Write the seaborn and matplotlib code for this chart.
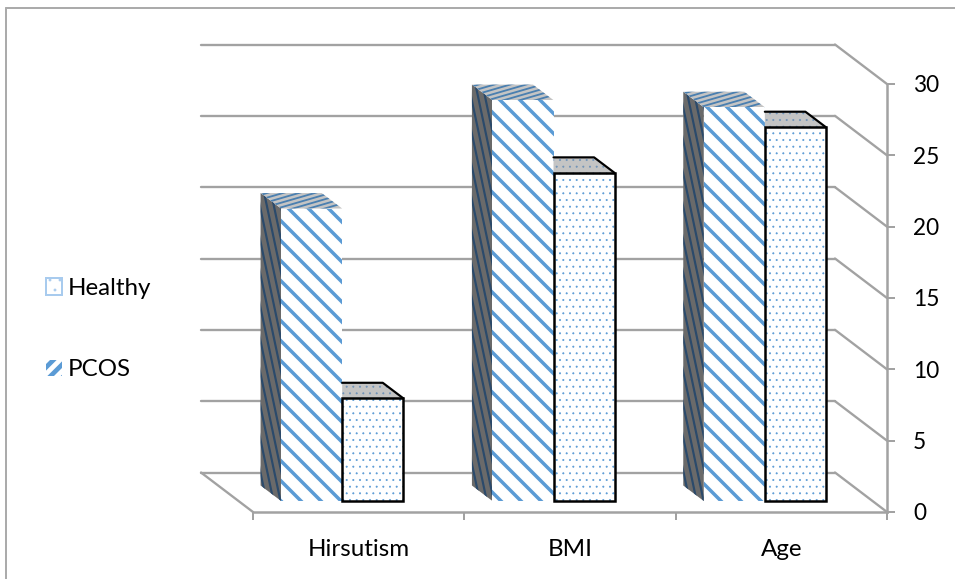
import numpy as np
import pandas as pd
import matplotlib
matplotlib.use("Agg")
import matplotlib.pyplot as plt
import seaborn as sns
from matplotlib.collections import LineCollection
from matplotlib.lines import Line2D
from matplotlib.patches import Patch, Polygon, Rectangle
from matplotlib.transforms import Affine2D

# Chart values
measures = ["Hirsutism", "BMI", "Age"]
pcos_values = [20.5, 28.1, 27.6]
healthy_values = [7.2, 23.0, 26.2]
value_ticks = [0, 5, 10, 15, 20, 25, 30]
group_names = ["PCOS", "Healthy"]

W, H, DPI = 955, 579, 120
GREY = "#a2a2a2"
STRIPE = "#5b9bd5"
DOT = "#5b9bd5"
FONT = "Lato"

# Oblique projection offsets, in pixels
WALL_DX, WALL_DY = 52, 39.5      # depth of the floor
BAR_DX, BAR_DY = -16.5, 11       # front face of the bars relative to the axis plane
FACE_DX, FACE_DY = -20.5, 15.5   # depth of a bar

sns.set_theme(style="white")
plt.rcParams["font.family"] = [FONT, "DejaVu Sans"]
plt.rcParams["hatch.linewidth"] = 2.1

fig = plt.figure(figsize=(W / DPI, H / DPI), dpi=DPI, facecolor="white")
ax = fig.add_axes([253 / W, (H - 512) / H, (887 - 253) / W, (512 - 84) / H])
ax.patch.set_alpha(0)


def hatch_width(artist, width):
    """Give one artist its own hatch line width."""
    if hasattr(artist, "set_hatch_linewidth"):
        artist.set_hatch_linewidth(width)
    original = artist.draw
    def draw(renderer, *args, **kwargs):
        with plt.rc_context({"hatch.linewidth": width}):
            return original(renderer, *args, **kwargs)
    artist.draw = draw
    return artist


df = pd.DataFrame({
    "measure": measures * 2,
    "group": ["PCOS"] * 3 + ["Healthy"] * 3,
    "value": pcos_values + healthy_values,
})
sns.barplot(data=df, x="measure", y="value", hue="group", hue_order=group_names,
            order=measures, palette=["white", "white"], width=0.578, gap=0,
            ax=ax, legend=False, errorbar=None, zorder=5)

ax.set_xlim(-0.5, 2.5)
ax.set_ylim(0, 30)
ax.set_xlabel("")
ax.set_ylabel("")

# Value axis on the right, category boundaries along the floor
ax.yaxis.tick_right()
ax.set_yticks(value_ticks)
ax.tick_params(axis="y", length=4.8, width=1.2, color=GREY, pad=10.8, labelsize=13.6,
               labelcolor="black", right=True)
for lab in ax.get_yticklabels():
    lab.set_ha("left")
ax.set_xticks(range(len(measures)))
ax.set_xticks([-0.5, 0.5, 1.5, 2.5], minor=True)
ax.tick_params(axis="x", which="major", length=0, pad=16, labelsize=14.5, labelcolor="black")
ax.tick_params(axis="x", which="minor", length=4.8, width=1.2, color=GREY, bottom=True)
for side in ["top", "left"]:
    ax.spines[side].set_visible(False)
for side in ["right", "bottom"]:
    ax.spines[side].set_color(GREY)
    ax.spines[side].set_linewidth(1.5)

# Back wall lines and the diagonals that join them to the value axis
wall = ax.transData + Affine2D().translate(-WALL_DX, WALL_DY)
pixels = Affine2D()
for v in value_ticks:
    ax.plot([-0.5, 2.5], [v, v], color=GREY, lw=1.4, transform=wall, clip_on=False, zorder=1)
    p_back = wall.transform((2.5, v))
    p_front = ax.transData.transform((2.5, v))
    ax.add_line(Line2D([p_back[0], p_front[0]], [p_back[1], p_front[1]], color=GREY, lw=1.4,
                       transform=pixels, clip_on=False, zorder=1))
p_back = wall.transform((-0.5, 0))
p_front = ax.transData.transform((-0.5, 0))
ax.add_line(Line2D([p_back[0], p_front[0]], [p_back[1], p_front[1]], color=GREY, lw=1.4,
                   transform=pixels, clip_on=False, zorder=1))

# Bars: shifted front face plus oblique side and top faces
offset = ax.transData + Affine2D().translate(BAR_DX, BAR_DY)
bar_groups = [list(c) for c in ax.containers]


def clipped_lines(segments, polygon, color, lw, z):
    lines = LineCollection(segments, colors=color, linewidths=lw, zorder=z)
    ax.add_collection(lines, autolim=False)
    lines.set_transform(pixels)
    lines.set_clip_path(polygon)
    return lines


for bar in bar_groups[0]:
    bar.set_transform(offset)
    bar.set_facecolor("white")
    bar.set_edgecolor(STRIPE)
    bar.set_linewidth(0)
    bar.set_hatch("\\\\")
    bar.set_clip_on(False)
    bar.set_zorder(5)
    hatch_width(bar, 2.1)
    x0, y0 = offset.transform((bar.get_x(), 0))
    x1, y1 = offset.transform((bar.get_x() + bar.get_width(), bar.get_height()))

    side = Polygon([(x0, y0), (x0, y1), (x0 + FACE_DX, y1 + FACE_DY), (x0 + FACE_DX, y0 + FACE_DY)],
                   closed=True, facecolor="#6a6a6a", edgecolor="none", transform=pixels,
                   clip_on=False, zorder=4)
    ax.add_patch(side)
    starts = np.arange(y1 + FACE_DY + 130, y0 - 140, -33)
    segs = [[(x0 + FACE_DX - 3, s), (x0 + 3, s - 125)] for s in starts]
    clipped_lines(segs, side, "#2b4a6b", 1.3, 4.1)

    top = Polygon([(x0, y1), (x1, y1), (x1 + FACE_DX, y1 + FACE_DY), (x0 + FACE_DX, y1 + FACE_DY)],
                  closed=True, facecolor="#c4c4c4", edgecolor="none", transform=pixels,
                  clip_on=False, zorder=4)
    ax.add_patch(top)
    starts = np.arange(y1 - 20, y1 + FACE_DY + 5, 4.6)
    segs = [[(x0 + FACE_DX - 5, s), (x1 + 5, s + 0.29 * (x1 - x0 - FACE_DX + 10))] for s in starts]
    clipped_lines(segs, top, "#4a7fb0", 1.1, 4.1)

for bar in bar_groups[1]:
    bar.set_transform(offset)
    bar.set_facecolor("white")
    bar.set_edgecolor(DOT)
    bar.set_linewidth(0)
    bar.set_hatch("...")
    bar.set_clip_on(False)
    bar.set_zorder(6)
    hatch_width(bar, 0.4)
    x0, y0 = offset.transform((bar.get_x(), 0))
    x1, y1 = offset.transform((bar.get_x() + bar.get_width(), bar.get_height()))

    outline = Rectangle((bar.get_x(), 0), bar.get_width(), bar.get_height(), fill=False,
                        edgecolor="black", linewidth=1.5, transform=offset, clip_on=False, zorder=7)
    ax.add_patch(outline)

    corners = [(x0, y1), (x1, y1), (x1 + FACE_DX, y1 + FACE_DY), (x0, y1 + FACE_DY)]
    top = Polygon(corners, closed=True, facecolor="#c4c4c4", edgecolor="#6f93b8", linewidth=0,
                  hatch="...", transform=pixels, clip_on=False, zorder=5.5)
    hatch_width(top, 0.4)
    ax.add_patch(top)
    ax.add_line(Line2D([x0, x1 + FACE_DX, x1], [y1 + FACE_DY, y1 + FACE_DY, y1], color="black",
                       lw=1.3, transform=pixels, clip_on=False, zorder=6.5))

# Legend at the left of the plot
healthy_key = Patch(facecolor="white", edgecolor="#a8cbee", linewidth=1.2, hatch="..")
pcos_key = Patch(facecolor="white", edgecolor=STRIPE, linewidth=0, hatch="///")
legend = fig.legend(handles=[healthy_key, pcos_key], labels=["Healthy", "PCOS"],
                    loc="center left", bbox_to_anchor=(46 / W, (H - 329) / H), frameon=False,
                    fontsize=14.5, handlelength=0.67, handleheight=0.67, handletextpad=0.22,
                    labelspacing=2.5, borderpad=0, borderaxespad=0)
for text in legend.get_texts():
    text.set_color("black")
hatch_width(legend.get_patches()[0], 0.5)
hatch_width(legend.get_patches()[1], 2.8)

# Frame along the top and left of the chart area
border = dict(color="#ababab", lw=1.2, transform=fig.transFigure, clip_on=False)
fig.add_artist(Line2D([6 / W, 1], [(H - 8) / H, (H - 8) / H], **border))
fig.add_artist(Line2D([6 / W, 6 / W], [(H - 8) / H, 0], **border))

fig.savefig("out.png", dpi=DPI, facecolor="white")
